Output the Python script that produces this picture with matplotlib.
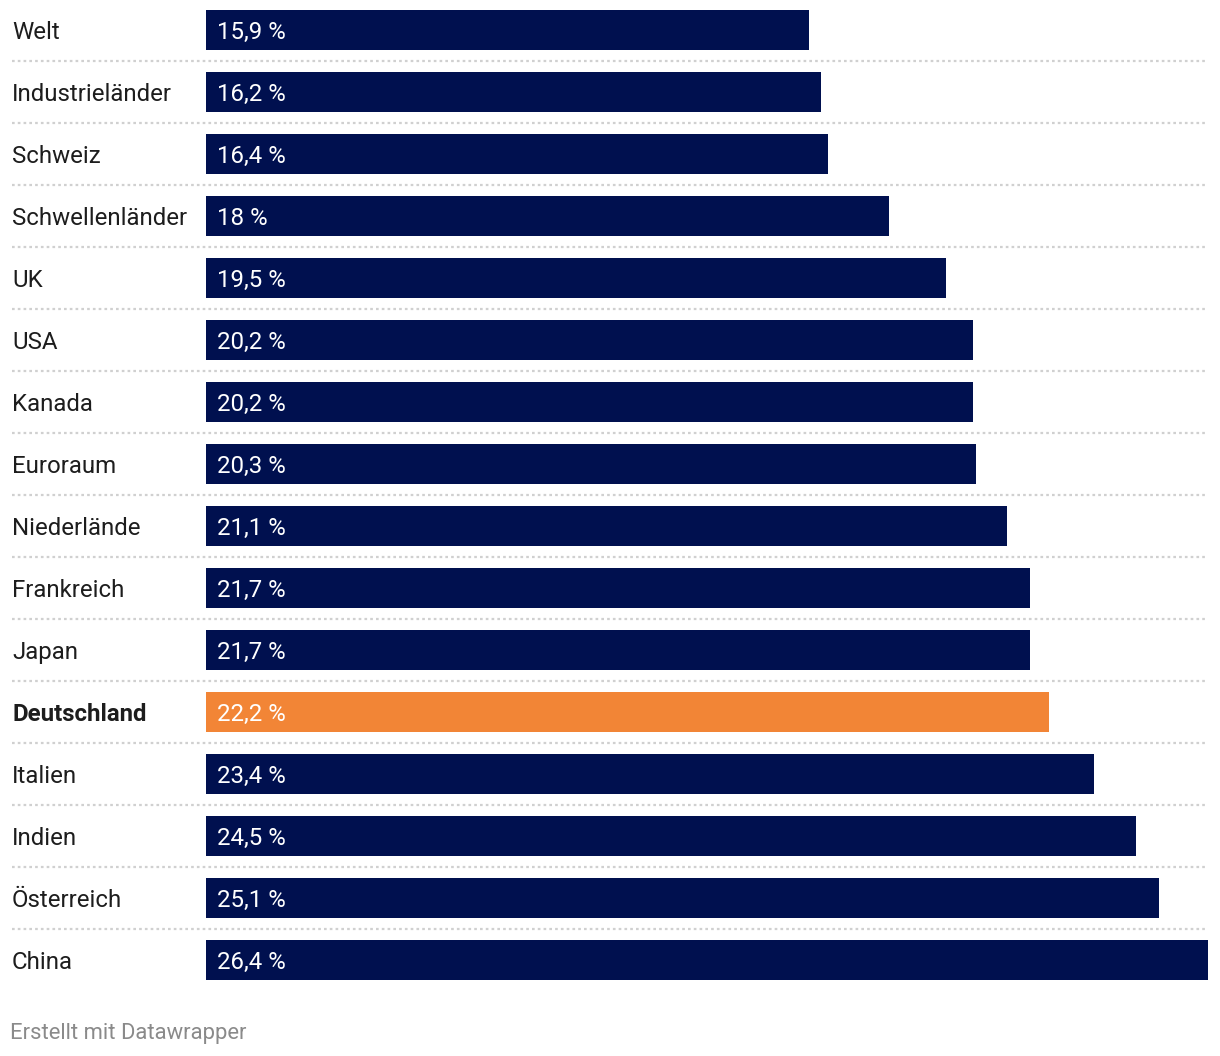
import matplotlib.pyplot as plt

# Daten
laender = ["Welt", "Industrieländer", "Schweiz", "Schwellenländer", "UK", "USA",
           "Kanada", "Euroraum", "Niederlände", "Frankreich", "Japan",
           "Deutschland", "Italien", "Indien", "Österreich", "China"]
werte = [15.9, 16.2, 16.4, 18.0, 19.5, 20.2, 20.2, 20.3, 21.1, 21.7, 21.7,
         22.2, 23.4, 24.5, 25.1, 26.4]
werte_labels = ["15,9 %", "16,2 %", "16,4 %", "18 %", "19,5 %", "20,2 %", "20,2 %",
                "20,3 %", "21,1 %", "21,7 %", "21,7 %", "22,2 %", "23,4 %",
                "24,5 %", "25,1 %", "26,4 %"]
hervorheben = "Deutschland"

navy = "#00104f"
orange = "#f28536"

plt.rcParams['font.family'] = ['Roboto', 'DejaVu Sans']

W, H = 1220, 1056
fig = plt.figure(figsize=(W / 100, H / 100), dpi=100)
ax = fig.add_axes([206 / W, (H - 991) / H, 1002 / W, 992 / H])

n = len(laender)
farben = [orange if l == hervorheben else navy for l in laender]
ax.barh(range(n), werte, height=40 / 62, color=farben)
ax.set_xlim(0, 26.4)
ax.set_ylim(n - 0.5, -0.5)
ax.axis("off")

ytr = ax.get_yaxis_transform()
x_links = (12 - 206) / 1002
dy = 0.035  # Text leicht nach unten

for i, (land, lab) in enumerate(zip(laender, werte_labels)):
    fett = "bold" if land == hervorheben else "normal"
    ax.text(x_links, i + dy, land, transform=ytr, ha="left", va="center",
            fontsize=17.3, color="#1d1d1d", fontweight=fett)
    ax.text(0.28, i + dy, lab, ha="left", va="center", fontsize=17.3, color="white")
    # gepunktete Trennlinie
    if i < n - 1:
        ax.plot([x_links, 1.0], [i + 0.5, i + 0.5], transform=ytr, clip_on=False,
                color="#d0d0d0", linewidth=1.6, linestyle=(0, (1.2, 1.4)))

fig.text(10 / W, (H - 1033) / H, "Erstellt mit Datawrapper", ha="left", va="center",
         fontsize=15.8, color="#8a8a8a")

fig.savefig("out.png", dpi=100, facecolor="white")
